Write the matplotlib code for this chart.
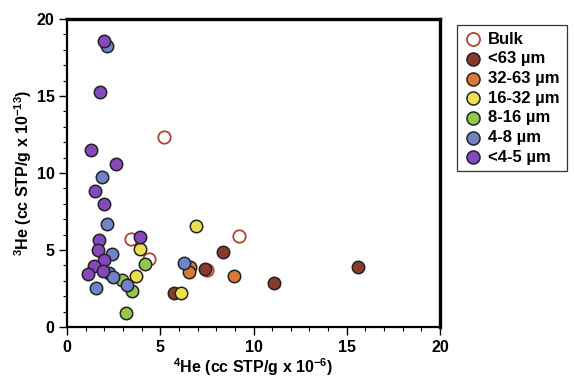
import matplotlib
matplotlib.use("Agg")
import matplotlib.pyplot as plt
from matplotlib.ticker import MultipleLocator

plt.rcParams['font.family'] = ['Liberation Sans', 'DejaVu Sans']
plt.rcParams['mathtext.fontset'] = 'custom'
plt.rcParams['mathtext.rm'] = 'Liberation Sans'
plt.rcParams['mathtext.default'] = 'regular'

# Data (4He in 1e-6 cc STP/g, 3He in 1e-13 cc STP/g)
bulk_x = [5.22, 3.43, 4.38, 7.49, 9.22]
bulk_y = [12.36, 5.71, 4.39, 3.72, 5.93]

lt63_x = [15.62, 11.10, 8.36, 7.40, 5.72]
lt63_y = [3.90, 2.86, 4.87, 3.79, 2.21]

s32_63_x = [6.60, 6.56, 8.95]
s32_63_y = [3.92, 3.57, 3.31]

s16_32_x = [6.93, 3.93, 3.72, 6.09]
s16_32_y = [6.58, 5.06, 3.29, 2.21]

s8_16_x = [4.20, 2.93, 3.50, 3.18]
s8_16_y = [4.07, 3.05, 2.34, 0.89]

s4_8_x = [2.13, 1.89, 2.14, 2.43, 2.27, 2.48, 3.20, 1.57, 6.26]
s4_8_y = [18.25, 9.72, 6.67, 4.74, 3.51, 3.27, 2.73, 2.51, 4.16]

lt4_5_x = [1.97, 1.79, 1.29, 2.61, 1.50, 1.97, 3.93, 1.72, 1.64, 1.97, 1.47, 1.14, 1.91]
lt4_5_y = [18.57, 15.28, 11.49, 10.58, 8.83, 7.97, 5.87, 5.65, 5.00, 4.33, 3.94, 3.46, 3.64]

series = [
    ('<63 µm', lt63_x, lt63_y, '#8b3a28'),
    ('32-63 µm', s32_63_x, s32_63_y, '#d87a35'),
    ('16-32 µm', s16_32_x, s16_32_y, '#ece14a'),
    ('8-16 µm', s8_16_x, s8_16_y, '#93c94a'),
    ('4-8 µm', s4_8_x, s4_8_y, '#6f84c8'),
    ('<4-5 µm', lt4_5_x, lt4_5_y, '#8748bf'),
]

fig = plt.figure(figsize=(5.74, 3.78), dpi=100)
ax = fig.add_axes([67/574, 1-327/378, (440-67)/574, (327-19)/378])

ax.scatter(bulk_x, bulk_y, s=80, facecolors='white', edgecolors='#b0452e',
           linewidths=1.3, label='Bulk', zorder=3)
for lab, xs, ys, col in series:
    ax.scatter(xs, ys, s=80, c=col, edgecolors='#222222', linewidths=1.1,
               label=lab, zorder=3)

ax.set_xlim(0, 20)
ax.set_ylim(0, 20)
ax.xaxis.set_major_locator(MultipleLocator(5))
ax.yaxis.set_major_locator(MultipleLocator(5))
ax.xaxis.set_minor_locator(MultipleLocator(1))
ax.yaxis.set_minor_locator(MultipleLocator(1))
ax.tick_params(which='major', direction='out', length=6, width=1.0,
               labelsize=11.5, pad=3)
ax.tick_params(which='minor', direction='out', length=3, width=0.8)
for lbl in ax.get_xticklabels() + ax.get_yticklabels():
    lbl.set_fontweight('bold')

for side in ['left', 'bottom']:
    ax.spines[side].set_linewidth(1.6)
for side in ['top', 'right']:
    ax.spines[side].set_linewidth(2.4)

ax.set_xlabel(r'$^{4}$He (cc STP/g x 10$^{-6}$)', fontsize=11.5,
              fontweight='bold', labelpad=1)
ax.set_ylabel(r'$^{3}$He (cc STP/g x 10$^{-13}$)', fontsize=11.5,
              fontweight='bold', labelpad=2)

leg = fig.legend(loc='upper left', bbox_to_anchor=(457.5/574, 1-25/378),
                 frameon=True, fancybox=False, edgecolor='black',
                 prop={'weight': 'bold', 'size': 12}, labelspacing=0.28,
                 handletextpad=0.35, borderpad=0.4, handlelength=1.1,
                 borderaxespad=0, markerscale=1.05)
leg.get_frame().set_linewidth(0.9)

fig.savefig('out.png', dpi=100)
